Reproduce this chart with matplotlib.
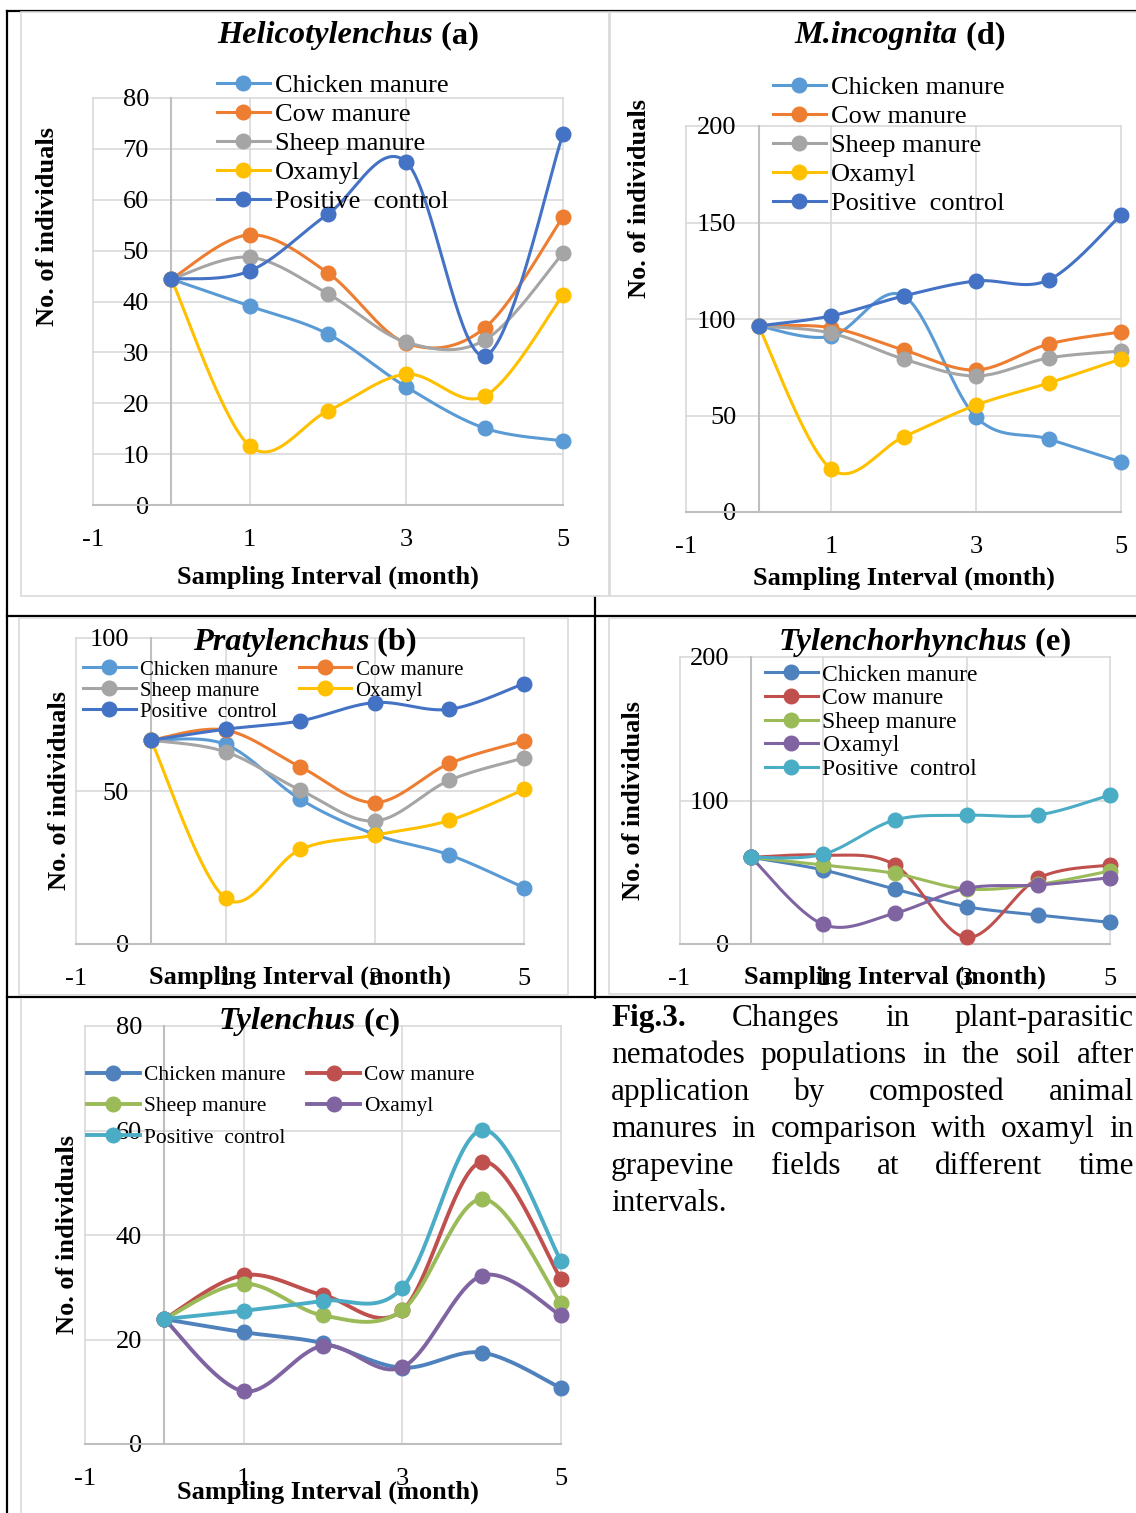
import numpy as np
import matplotlib.pyplot as plt
from matplotlib.lines import Line2D
from matplotlib.patches import Rectangle

plt.rcParams['font.family'] = ['Liberation Serif', 'DejaVu Serif']
plt.rcParams['axes.unicode_minus'] = False

W, H = 1136, 1513

months = [0, 1, 2, 3, 4, 5]
treatments = ['Chicken manure', 'Cow manure', 'Sheep manure', 'Oxamyl', 'Positive  control']

# Helicotylenchus (a)
heli_chicken = [44.4, 39.1, 33.6, 23.2, 15.1, 12.6]
heli_cow = [44.4, 53.1, 45.6, 31.8, 34.8, 56.6]
heli_sheep = [44.4, 48.7, 41.5, 32.0, 32.4, 49.5]
heli_oxamyl = [44.4, 11.6, 18.5, 25.7, 21.4, 41.3]
heli_positive = [44.4, 46.0, 57.2, 67.4, 29.3, 72.9]

# M.incognita (d)
minc_chicken = [96.4, 91.0, 112.0, 49.2, 37.8, 25.9]
minc_cow = [96.4, 95.5, 84.0, 73.6, 87.0, 93.3]
minc_sheep = [96.4, 92.7, 79.3, 70.5, 79.8, 83.4]
minc_oxamyl = [96.4, 22.3, 38.9, 55.4, 66.8, 79.3]
minc_positive = [96.4, 101.6, 111.9, 119.7, 120.2, 153.9]

# Pratylenchus (b)
praty_chicken = [66.6, 65.2, 47.3, 35.8, 29.1, 18.4]
praty_cow = [66.6, 69.9, 57.9, 46.2, 59.0, 66.4]
praty_sheep = [66.6, 62.8, 50.3, 40.2, 53.5, 60.8]
praty_oxamyl = [66.6, 14.9, 30.9, 35.6, 40.4, 50.5]
praty_positive = [66.6, 70.2, 72.9, 78.9, 76.7, 85.1]

# Tylenchorhynchus (e)
tylr_chicken = [60.4, 51.6, 38.3, 26.0, 20.2, 15.1]
tylr_cow = [60.4, 62.0, 55.1, 4.6, 45.8, 55.1]
tylr_sheep = [60.4, 55.1, 49.2, 38.3, 41.6, 50.9]
tylr_oxamyl = [60.4, 13.7, 21.4, 38.8, 41.1, 46.2]
tylr_positive = [60.4, 62.5, 86.4, 89.7, 89.9, 103.8]

# Tylenchus (c)
tyl_chicken = [23.9, 21.4, 19.3, 14.6, 17.5, 10.7]
tyl_cow = [23.9, 32.3, 28.5, 25.6, 54.0, 31.6]
tyl_sheep = [23.9, 30.7, 24.6, 25.6, 46.9, 26.9]
tyl_oxamyl = [23.9, 10.1, 18.8, 14.7, 32.2, 24.6]
tyl_positive = [23.9, 25.5, 27.4, 29.9, 60.1, 35.1]

colors_2013 = ['#5B9BD5', '#ED7D31', '#A5A5A5', '#FFC000', '#4472C4']
colors_2007 = ['#4F81BD', '#C0504D', '#9BBB59', '#8064A2', '#4BACC6']

caption = ["Fig.3. Changes in plant-parasitic",
           "nematodes populations in the soil after",
           "application by composted animal",
           "manures in comparison with oxamyl in",
           "grapevine fields at different time",
           "intervals."]


def fx(px):
    return px / W


def fy(py):
    return 1 - py / H


def excel_smooth(x, y, n=40):
    # bezier smoothing like excel "smoothed line"
    x = np.asarray(x, float)
    y = np.asarray(y, float)
    px = np.concatenate([[x[0]], x, [x[-1]]])
    py = np.concatenate([[y[0]], y, [y[-1]]])
    t = np.linspace(0, 1, n)
    xs, ys = [], []
    for i in range(len(x) - 1):
        p0 = np.array([px[i], py[i]])
        p1 = np.array([px[i + 1], py[i + 1]])
        p2 = np.array([px[i + 2], py[i + 2]])
        p3 = np.array([px[i + 3], py[i + 3]])
        c1 = p1 + (p2 - p0) / 6
        c2 = p2 - (p3 - p1) / 6
        b = (np.outer((1 - t) ** 3, p1) + np.outer(3 * (1 - t) ** 2 * t, c1)
             + np.outer(3 * (1 - t) * t ** 2, c2) + np.outer(t ** 3, p2))
        xs.append(b[:, 0])
        ys.append(b[:, 1])
    return np.concatenate(xs), np.concatenate(ys)


fig = plt.figure(figsize=(W / 100, H / 100), dpi=100)
renderer = fig.canvas.get_renderer()

# table lines
table_lines = [((7, 7), (11, 1513)), ((7, 1136), (11, 11)), ((7, 1136), (616, 616)),
               ((595, 595), (596, 1003)), ((7, 1136), (997, 997))]
for xs_, ys_ in table_lines:
    fig.add_artist(Line2D([fx(v) for v in xs_], [fy(v) for v in ys_], color='black',
                          lw=1.6, transform=fig.transFigure, zorder=-3))

# chart frames
frames = [(21, 12, 609, 596), (610, 12, 1140, 596), (19, 618, 568, 995),
          (609, 618, 1140, 994), (21, 999, 604, 1520)]
for i, (x0, y0, x1, y1) in enumerate(frames):
    ec = '#D9D9D9' if i < 4 else 'none'
    fig.add_artist(Rectangle((fx(x0), fy(y1)), fx(x1) - fx(x0), fy(y0) - fy(y1),
                             transform=fig.transFigure, facecolor='white',
                             edgecolor=ec, lw=1.2, zorder=-2))
fig.add_artist(Line2D([fx(21), fx(21)], [fy(999), fy(1513)], color='#D9D9D9', lw=1.2,
                      transform=fig.transFigure, zorder=-1))


def two_part_text(cx, cy, italic_part, rest, size):
    t1 = fig.text(0, fy(cy), italic_part, fontsize=size, fontweight='bold',
                  fontstyle='italic', va='center')
    t2 = fig.text(0, fy(cy), ' ' + rest, fontsize=size, fontweight='bold', va='center')
    w1 = t1.get_window_extent(renderer).width
    w2 = t2.get_window_extent(renderer).width
    x0 = cx - (w1 + w2) / 2
    t1.set_x(fx(x0))
    t2.set_x(fx(x0 + w1))


def panel(rect, ymax, ystep, series, colors, title, title_xy, ylab_xy, xlab_xy,
          leg_xy, leg_ncol, leg_size, leg_spacing, lw=2.2, ms=10.5):
    l, r, t, b = rect
    ax = fig.add_axes([fx(l), fy(b), fx(r) - fx(l), fy(t) - fy(b)])
    ax.set_facecolor('none')
    for vals, c in zip(series, colors):
        sx, sy = excel_smooth(months, vals)
        ax.plot(sx, sy, color=c, lw=lw, solid_capstyle='round', clip_on=False, zorder=3)
        ax.plot(months, vals, 'o', color=c, ms=ms, clip_on=False, zorder=3)
    ax.set_xlim(-1, 5)
    ax.set_ylim(0, ymax)
    ax.set_xticks([-1, 1, 3, 5])
    ax.set_yticks(np.arange(0, ymax + 1, ystep))
    ax.grid(True, color='#D9D9D9', lw=1.2, clip_on=False, zorder=0)
    ax.set_axisbelow(True)
    for s in ['top', 'right']:
        ax.spines[s].set_visible(False)
    ax.spines['left'].set_position(('data', 0))
    ax.spines['left'].set_color('#BFBFBF')
    ax.spines['bottom'].set_color('#BFBFBF')
    ax.spines['left'].set_linewidth(1.5)
    ax.spines['bottom'].set_linewidth(1.5)
    ax.tick_params(axis='both', length=0, labelsize=19)
    ax.tick_params(axis='x', pad=17)
    ax.tick_params(axis='y', pad=16)

    two_part_text(title_xy[0], title_xy[1], title[0], title[1], 23.3)
    fig.text(fx(ylab_xy[0]), fy(ylab_xy[1]), 'No. of individuals', fontsize=19,
             fontweight='bold', rotation=90, ha='center', va='center')
    fig.text(fx(xlab_xy[0]), fy(xlab_xy[1]), 'Sampling Interval (month)', fontsize=19,
             fontweight='bold', ha='center', va='center')

    handles = [Line2D([], [], color=c, lw=lw, marker='o', ms=ms) for c in colors]
    labels = list(treatments)
    if leg_ncol == 2:
        order = [0, 2, 4, 1, 3]
        handles = [handles[i] for i in order]
        labels = [labels[i] for i in order]
    ax.legend(handles, labels, loc='upper left', bbox_to_anchor=(fx(leg_xy[0]), fy(leg_xy[1])),
              bbox_transform=fig.transFigure, ncol=leg_ncol, frameon=False,
              fontsize=leg_size, borderpad=0, borderaxespad=0, handlelength=2.0 * 19 / leg_size,
              handletextpad=0.2, labelspacing=leg_spacing, columnspacing=1.0, numpoints=1)
    return ax


panel((93, 563, 98, 505), 80, 10,
      [heli_chicken, heli_cow, heli_sheep, heli_oxamyl, heli_positive], colors_2013,
      ('Helicotylenchus', '(a)'), (348, 36), (48, 227), (328, 577),
      (217, 73.5), 1, 19, 0.21)

panel((686, 1121, 126, 512), 200, 50,
      [minc_chicken, minc_cow, minc_sheep, minc_oxamyl, minc_positive], colors_2013,
      ('M.incognita', '(d)'), (900, 36), (639, 199), (904, 578),
      (773, 75.5), 1, 19, 0.21)

panel((76.5, 524, 638, 944), 100, 50,
      [praty_chicken, praty_cow, praty_sheep, praty_oxamyl, praty_positive], colors_2013,
      ('Pratylenchus', '(b)'), (305, 642), (59, 791), (300, 977),
      (83, 660), 2, 15, 0.07)

panel((679.5, 1110, 657, 944), 200, 100,
      [tylr_chicken, tylr_cow, tylr_sheep, tylr_oxamyl, tylr_positive], colors_2007,
      ('Tylenchorhynchus', '(e)'), (925, 642), (634, 801), (895, 977),
      (765, 664), 1, 17, 0.09)

panel((85, 561, 1026, 1444), 80, 20,
      [tyl_chicken, tyl_cow, tyl_sheep, tyl_oxamyl, tyl_positive], colors_2007,
      ('Tylenchus', '(c)'), (309, 1022), (67, 1235), (328, 1492),
      (87, 1065), 2, 15.5, 0.52, lw=2.8)

# justified caption
left, right = 611, 1134
cap_size = 22.5
for i, line in enumerate(caption):
    base = 1026 + 37 * i
    words = line.split()
    texts = []
    for j, w in enumerate(words):
        wt = 'bold' if (i == 0 and j == 0) else 'normal'
        texts.append(fig.text(0, fy(base), w, fontsize=cap_size, fontweight=wt, va='baseline'))
    widths = [t.get_window_extent(renderer).width for t in texts]
    if i == len(caption) - 1 or len(words) == 1:
        gap = 0.25 * cap_size * 100 / 72
    else:
        gap = (right - left - sum(widths)) / (len(words) - 1)
    x = left
    for t, wd in zip(texts, widths):
        t.set_x(fx(x))
        x += wd + gap

fig.savefig('out.png', dpi=100)
